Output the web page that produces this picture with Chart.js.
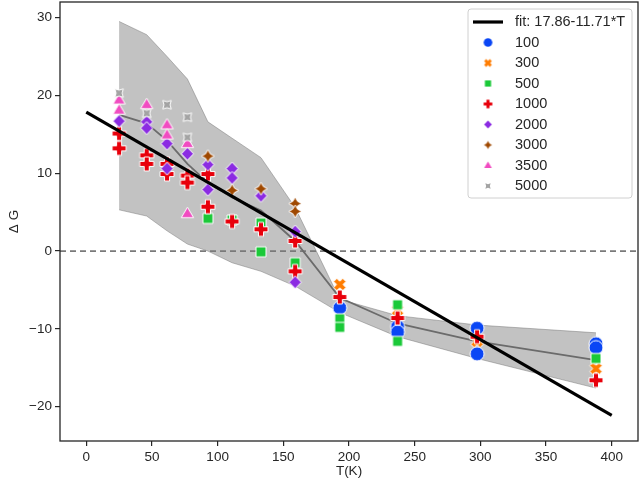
<!DOCTYPE html>
<html>
<head>
<meta charset="utf-8">
<title>dG vs T</title>
<script src="https://cdn.jsdelivr.net/npm/chart.js@4.4.1/dist/chart.umd.min.js"></script>
<style>
  html, body { margin: 0; padding: 0; background: #fff; }
  #wrap { width: 640px; height: 481px; }
</style>
</head>
<body>
<div id="wrap"><canvas id="chart" width="640" height="481"></canvas></div>
<script>
// ---- data ----
// each point is [T(K), dG]
const g100 = [[193, -7.3], [237, -9.7], [237, -10.4], [297.5, -9.9], [297.5, -13.2], [388, -11.9], [388, -12.4]];
const g300 = [[193, -4.3], [237, -7.6], [297.5, -11.6], [388, -15.1]];
const g500 = [[92.6, 4.2], [111, 4.0], [133, 3.6], [133, -0.1], [159, -1.5], [193, -8.7], [193, -9.8], [237, -6.9], [237, -11.6], [388, -13.8]];
const g1000 = [[25, 15.1], [25, 13.2], [46, 12.3], [46, 11.2], [61.5, 11.2], [61.5, 9.9], [77, 9.7], [77, 8.8],
  [92.6, 9.9], [92.6, 5.7], [111, 3.8], [133, 2.8], [159, 1.3], [159, -2.6], [193, -5.9], [237, -8.6], [297.5, -11.0], [388, -16.6]];
const g2000 = [[25, 16.7], [46, 16.6], [46, 15.8], [61.5, 13.8], [61.5, 10.6], [77, 12.5], [92.6, 11.1], [92.6, 7.9],
  [111, 10.6], [111, 9.4], [133, 7.1], [159, 2.5], [159, -4.0]];
const g3000 = [[92.6, 12.2], [111, 7.8], [133, 8.0], [159, 6.1], [159, 5.1]];
const g3500 = [[25, 19.4], [25, 18.1], [46, 18.8], [61.5, 16.2], [61.5, 14.9], [77, 13.8], [77, 4.8]];
const g5000 = [[25, 20.3], [46, 17.7], [61.5, 18.8], [77, 17.2], [77, 14.6]];

// mean line and its shaded spread
const bandT = [25, 46, 61.5, 77, 92.6, 111, 133, 159, 193, 237, 297.5, 388];
const bandMean = [17.5, 16.4, 14.2, 11.2, 8.8, 6.9, 5.2, 1.3, -6.0, -9.3, -11.6, -14.0];
const bandUpper = [29.5, 27.8, 25.0, 22.1, 16.6, 14.5, 12.0, 5.6, -6.2, -8.3, -9.5, -10.5];
const bandLower = [5.3, 4.5, 2.6, 0.9, 0.0, -1.5, -2.6, -4.5, -7.9, -11.0, -13.8, -17.6];

// straight fit line (end points)
const fitT = [0, 400];
const fitG = [17.86, -21.1];
const fitLabel = "fit: 17.86-11.71*T";

const zeroT = [-20, 420];
const zeroG = [0, 0];

const seriesLabels = ["100", "300", "500", "1000", "2000", "3000", "3500", "5000"];
const seriesData = [g100, g300, g500, g1000, g2000, g3000, g3500, g5000];
const seriesColors = ["#0a46f5", "#ff7c00", "#1ac938", "#e8000b", "#8b2be2", "#9f4800", "#f14cc1", "#a3a3a3"];
const seriesShapes = ["o", "X", "s", "P", "D", "star", "^", "starx"];
const seriesSizes = [14, 13, 10, 14, 13, 13, 13, 12];

const FONT = "'Liberation Sans', Arial, sans-serif";

// ---- marker images (seaborn-like markers with a white edge) ----
function markerPath(ctx, kind, r) {
  const pts = [];
  if (kind === "o") {
    ctx.arc(0, 0, r, 0, Math.PI * 2);
    return;
  }
  if (kind === "P" || kind === "X") {
    const w = r * 0.36;
    const base = [[-w, -r], [w, -r], [w, -w], [r, -w], [r, w], [w, w], [w, r], [-w, r], [-w, w], [-r, w], [-r, -w], [-w, -w]];
    const a = kind === "X" ? Math.PI / 4 : 0;
    base.forEach(([x, y]) => pts.push([x * Math.cos(a) - y * Math.sin(a), x * Math.sin(a) + y * Math.cos(a)]));
  } else if (kind === "s") {
    pts.push([-r, -r], [r, -r], [r, r], [-r, r]);
  } else if (kind === "D") {
    pts.push([0, -r], [r * 0.95, 0], [0, r], [-r * 0.95, 0]);
  } else if (kind === "star" || kind === "starx") {
    const off = kind === "starx" ? Math.PI / 4 : 0;
    for (let i = 0; i < 8; i++) {
      const rr = i % 2 === 0 ? r : r * 0.5;
      const a = -Math.PI / 2 + off + (i * Math.PI) / 4;
      pts.push([rr * Math.cos(a), rr * Math.sin(a)]);
    }
  } else if (kind === "^") {
    pts.push([0, -r], [r * 0.95, r * 0.6], [-r * 0.95, r * 0.6]);
  }
  pts.forEach(([x, y], i) => (i === 0 ? ctx.moveTo(x, y) : ctx.lineTo(x, y)));
  ctx.closePath();
}

function makeMarker(kind, color, size, edge) {
  const c = document.createElement("canvas");
  c.width = c.height = Math.ceil(size + 4);
  const ctx = c.getContext("2d");
  ctx.translate(c.width / 2, c.height / 2);
  ctx.beginPath();
  markerPath(ctx, kind, size / 2);
  ctx.fillStyle = color;
  ctx.fill();
  if (edge) {
    ctx.lineWidth = 1;
    ctx.strokeStyle = "#ffffff";
    ctx.stroke();
  }
  return c;
}

const plotMarkers = seriesShapes.map((k, i) => makeMarker(k, seriesColors[i], seriesSizes[i], true));
const legendMarkers = seriesShapes.map((k, i) => makeMarker(k, seriesColors[i], seriesSizes[i] * 0.62, false));

const pairs = (xs, ys) => xs.map((x, i) => ({ x, y: ys[i] }));

// ---- datasets ----
const datasets = [
  {
    type: "line", label: "upper", data: pairs(bandT, bandUpper),
    borderColor: "rgba(110,110,110,0.45)", borderWidth: 1, pointRadius: 0,
    backgroundColor: "rgba(110,110,110,0.42)", fill: "+1", order: 10,
  },
  {
    type: "line", label: "lower", data: pairs(bandT, bandLower),
    borderColor: "rgba(110,110,110,0.45)", borderWidth: 1, pointRadius: 0, fill: false, order: 10,
  },
  {
    type: "line", label: "zero", data: pairs(zeroT, zeroG),
    borderColor: "#7a7a7a", borderWidth: 1.6, borderDash: [6, 4], pointRadius: 0, fill: false, order: 9,
  },
  {
    type: "line", label: "mean", data: pairs(bandT, bandMean),
    borderColor: "#6b6b6b", borderWidth: 1.8, pointRadius: 0, fill: false, order: 8,
  },
];

seriesData.forEach((d, i) => {
  datasets.push({
    type: "scatter", label: seriesLabels[i], data: d.map(([x, y]) => ({ x, y })),
    pointStyle: plotMarkers[i], pointRadius: seriesSizes[i] / 2, order: 5 - i * 0.1,
  });
});

datasets.push({
  type: "line", label: fitLabel, data: pairs(fitT, fitG),
  borderColor: "#000000", borderWidth: 3.2, pointRadius: 0, fill: false, order: 0,
});

// frame around the plot and the legend box in the upper right corner
const framePlugin = {
  id: "frame",
  afterDraw(chart) {
    const { ctx, chartArea: a } = chart;
    ctx.save();
    ctx.strokeStyle = "#262626";
    ctx.lineWidth = 1.3;
    ctx.strokeRect(a.left, a.top, a.right - a.left, a.bottom - a.top);

    const bx = a.right - 170, by = a.top + 7, bw = 164, bh = 189;
    ctx.fillStyle = "rgba(255,255,255,0.85)";
    ctx.strokeStyle = "#d0d0d0";
    ctx.lineWidth = 1;
    ctx.beginPath();
    ctx.roundRect(bx, by, bw, bh, 3);
    ctx.fill();
    ctx.stroke();

    ctx.font = "14.5px " + FONT;
    ctx.fillStyle = "#262626";
    ctx.textBaseline = "middle";
    const rowY = (i) => by + 13 + i * 20.5;
    ctx.strokeStyle = "#000";
    ctx.lineWidth = 3.2;
    ctx.beginPath();
    ctx.moveTo(bx + 5, rowY(0));
    ctx.lineTo(bx + 35, rowY(0));
    ctx.stroke();
    ctx.fillText(fitLabel, bx + 47, rowY(0));
    seriesLabels.forEach((lab, i) => {
      const m = legendMarkers[i];
      ctx.drawImage(m, bx + 20 - m.width / 2, rowY(i + 1) - m.height / 2);
      ctx.fillText(lab, bx + 47, rowY(i + 1));
    });
    ctx.restore();
  },
};

new Chart(document.getElementById("chart"), {
  data: { datasets },
  options: {
    responsive: false,
    animation: false,
    layout: { autoPadding: false, padding: { top: 2, right: 2, left: 0, bottom: 0 } },
    plugins: { legend: { display: false }, tooltip: { enabled: false } },
    scales: {
      x: {
        type: "linear", min: -20, max: 420,
        afterFit: (s) => { s.height = 40; s.paddingLeft = 0; s.paddingRight = 0; },
        afterBuildTicks: (s) => { s.ticks = [0, 50, 100, 150, 200, 250, 300, 350, 400].map((v) => ({ value: v })); },
        border: { display: false },
        grid: { drawOnChartArea: false, drawTicks: true, tickLength: 5, color: "#262626", lineWidth: 1.2 },
        ticks: { color: "#262626", font: { family: FONT, size: 13.5 }, padding: 3, maxRotation: 0 },
        title: { display: true, text: "T(K)", color: "#262626", font: { family: FONT, size: 13.5 }, padding: { top: 0, bottom: 2 } },
      },
      y: {
        type: "linear", min: -24.4, max: 32,
        afterFit: (s) => { s.width = 60; s.paddingTop = 0; s.paddingBottom = 0; },
        afterBuildTicks: (s) => { s.ticks = [-20, -10, 0, 10, 20, 30].map((v) => ({ value: v })); },
        border: { display: false },
        grid: { drawOnChartArea: false, drawTicks: true, tickLength: 5, color: "#262626", lineWidth: 1.2 },
        ticks: {
          color: "#262626", font: { family: FONT, size: 13.5 }, padding: 3,
          callback: (v) => (v < 0 ? "\u2212" + Math.abs(v) : String(v)),
        },
        title: { display: true, text: "\u0394 G", color: "#262626", font: { family: FONT, size: 13.5 }, padding: { top: 6, bottom: 0 } },
      },
    },
  },
  plugins: [framePlugin],
});
</script>
</body>
</html>
